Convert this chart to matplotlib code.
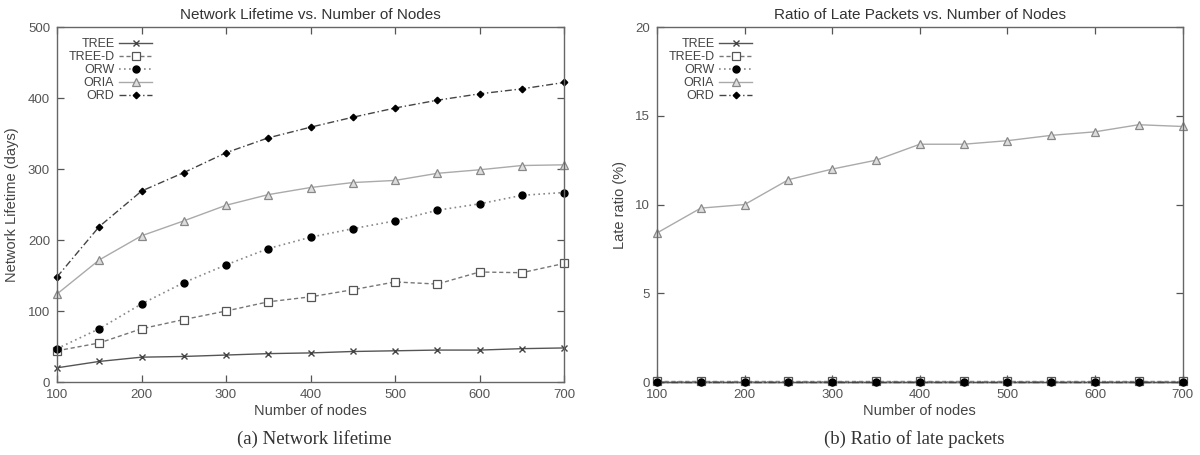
import matplotlib
matplotlib.use("Agg")
import matplotlib.pyplot as plt

nodes = [100, 150, 200, 250, 300, 350, 400, 450, 500, 550, 600, 650, 700]
series_names = ["TREE", "TREE-D", "ORW", "ORIA", "ORD"]

# (a) Network lifetime (days)
life_tree = [20, 29, 35, 36, 38, 40, 41, 43, 44, 45, 45, 47, 48]
life_treed = [44, 55, 75, 88, 100, 113, 120, 130, 141, 138, 155, 154, 167]
life_orw = [47, 75, 110, 140, 165, 188, 204, 216, 227, 242, 251, 263, 267]
life_oria = [124, 172, 206, 227, 249, 264, 274, 281, 284, 294, 299, 305, 306]
life_ord = [148, 219, 269, 295, 323, 344, 359, 373, 386, 397, 406, 413, 422]

# (b) Ratio of late packets (%)
late_tree = [0.0] * 13
late_treed = [0.05] * 13
late_orw = [0.0] * 13
late_oria = [8.4, 9.8, 10.0, 11.4, 12.0, 12.5, 13.4, 13.4, 13.6, 13.9, 14.1, 14.5, 14.4]
late_ord = [0.0] * 13

styles = [
    dict(color="#555555", ls="-", lw=1.0, marker="x", ms=5, mec="#444444", mfc="none", mew=1.0),
    dict(color="#777777", ls=(0, (3, 2)), lw=1.0, marker="s", ms=5.5, mec="#555555", mfc="white", mew=0.9),
    dict(color="#888888", ls=(0, (1, 2)), lw=1.2, marker="o", ms=5, mec="black", mfc="black"),
    dict(color="#aaaaaa", ls="-", lw=1.0, marker="^", ms=5.5, mec="#888888", mfc="#dddddd", mew=0.9),
    dict(color="#444444", ls=(0, (5, 2, 1, 2)), lw=1.0, marker="D", ms=3.3, mec="black", mfc="black"),
]

plt.rcParams["font.family"] = ["Liberation Sans", "DejaVu Sans"]

fig = plt.figure(figsize=(12, 4.55), dpi=100)
ax1 = fig.add_axes([0.0475, 0.1604, 0.4225, 0.780])
ax2 = fig.add_axes([0.5475, 0.1604, 0.438, 0.780])

def setup(ax, title, ylabel, ylim, yticks):
    ax.set_xlim(100, 700)
    ax.set_ylim(*ylim)
    ax.set_xticks(range(100, 701, 100))
    ax.set_yticks(yticks)
    ax.tick_params(direction="in", top=True, right=True, length=5, width=0.9,
                   color="#555555", labelcolor="#555555", labelsize=9.5, pad=5)
    for s in ax.spines.values():
        s.set_color("#666666")
        s.set_linewidth(1.0)
    ax.set_title(title, fontsize=11, color="#333333", pad=6)
    ax.set_xlabel("Number of nodes", fontsize=10.5, color="#444444", labelpad=2)
    ax.set_ylabel(ylabel, fontsize=10.5, color="#444444", labelpad=6)

setup(ax1, "Network Lifetime vs. Number of Nodes", "Network Lifetime (days)", (0, 500), range(0, 501, 100))
setup(ax2, "Ratio of Late Packets vs. Number of Nodes", "Late ratio (%)", (0, 20), range(0, 21, 5))

for name, vals, st in zip(series_names, [life_tree, life_treed, life_orw, life_oria, life_ord], styles):
    ax1.plot(nodes, vals, label=name, clip_on=False, **st)

for name, vals, st in zip(series_names, [late_tree, late_treed, late_orw, late_oria, late_ord], styles):
    ax2.plot(nodes, vals, label=name, clip_on=False, zorder=3 if name != "ORIA" else 2, **st)

for ax in (ax1, ax2):
    ax.legend(loc="upper left", bbox_to_anchor=(0.0, 1.0), frameon=False, markerfirst=False,
              fontsize=9, handlelength=2.6, handletextpad=0.4, labelspacing=0.08,
              borderaxespad=0.5, labelcolor="#444444")

fig.text(0.262, 0.025, "(a) Network lifetime", ha="center", fontsize=13.5,
         family=["Liberation Serif", "DejaVu Serif"], color="#333333")
fig.text(0.762, 0.025, "(b) Ratio of late packets", ha="center", fontsize=13.5,
         family=["Liberation Serif", "DejaVu Serif"], color="#333333")

fig.savefig("out.png", dpi=100, facecolor="white")
